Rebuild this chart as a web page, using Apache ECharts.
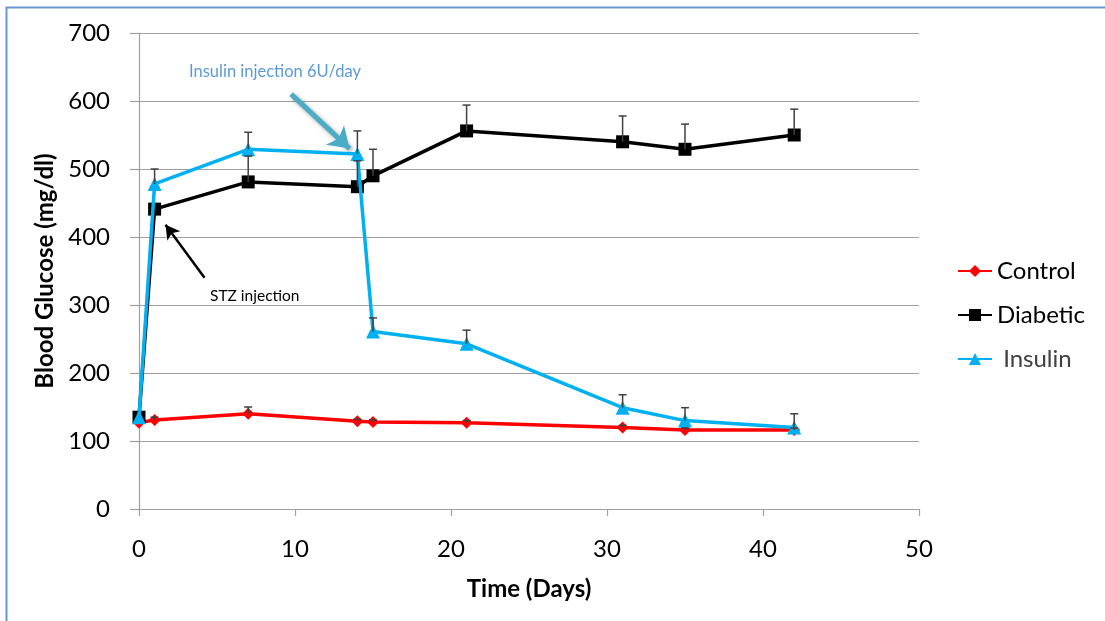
<!DOCTYPE html>
<html>
<head>
<meta charset="utf-8">
<script src="https://cdn.jsdelivr.net/npm/echarts@6/dist/echarts.min.js"></script>
<style>
  html, body { margin: 0; padding: 0; background: #fff; }
  #chart { width: 1105px; height: 621px; }
</style>
</head>
<body>
<div id="chart"></div>
<script>
// Sampling days
const days = [0, 1, 7, 14, 15, 21, 31, 35, 42];

// Mean blood glucose (mg/dl) per group
const control  = [127, 131, 140, 129, 128, 127, 120, 116, 116];
const diabetic = [135, 441, 481, 474, 490, 556, 540, 529, 550];
const insulin  = [135, 478, 529, 522, 261, 243, 149, 130, 120];

// Upper error (SE) per group; null = no bar drawn
const controlErr  = [null, 4, 10, 3, 3, 3, 3, 3, 3];
const diabeticErr = [null, null, 38, 38, 39, 38, 38, 37, 38];
const insulinErr  = [null, 22, 25, 34, 20, 20, 19, 19, 20];

const seriesNames = ['Control', 'Diabetic', 'Insulin'];
const yTicks = [0, 100, 200, 300, 400, 500, 600, 700];
const xTicks = [0, 10, 20, 30, 40, 50];

const FONT = 'Lato, "Open Sans", sans-serif';

function pairs(vals) {
  return days.map((d, i) => [d, vals[i]]);
}
function errData(vals, errs) {
  const out = [];
  days.forEach((d, i) => {
    if (errs[i] != null) out.push([d, vals[i], errs[i]]);
  });
  return out;
}

// Upper-only error bar with a short cap
function renderErr(params, api) {
  const x = api.value(0), v = api.value(1), e = api.value(2);
  const p0 = api.coord([x, v]);
  const p1 = api.coord([x, v + e]);
  const cap = 4;
  const style = { stroke: '#404040', lineWidth: 1.5, fill: null };
  return {
    type: 'group',
    children: [
      { type: 'line', shape: { x1: p0[0], y1: p0[1], x2: p1[0], y2: p1[1] }, style },
      { type: 'line', shape: { x1: p1[0] - cap, y1: p1[1], x2: p1[0] + cap, y2: p1[1] }, style }
    ]
  };
}

const chart = echarts.init(document.getElementById('chart'));

chart.setOption({
  animation: false,
  backgroundColor: '#ffffff',
  textStyle: { fontFamily: FONT },
  grid: { left: 139, right: 186, top: 33, bottom: 112, containLabel: false },
  xAxis: {
    type: 'value',
    min: xTicks[0], max: xTicks[xTicks.length - 1], interval: 10,
    name: 'Time (Days)',
    nameLocation: 'middle',
    nameGap: 68,
    nameTextStyle: { fontSize: 24, fontWeight: 'bold', color: '#000', fontFamily: FONT },
    axisLine: { show: true, lineStyle: { color: '#a0a0a0', width: 1.2 } },
    axisTick: { show: true, length: 7, lineStyle: { color: '#a0a0a0', width: 1.2 } },
    axisLabel: { fontSize: 24, color: '#000', margin: 28, fontFamily: FONT },
    splitLine: { show: false }
  },
  yAxis: {
    type: 'value',
    min: yTicks[0], max: yTicks[yTicks.length - 1], interval: 100,
    name: 'Blood Glucose (mg/dl)',
    nameLocation: 'middle',
    nameGap: 75,
    nameTextStyle: { fontSize: 24, fontWeight: 'bold', color: '#000', fontFamily: FONT },
    axisLine: { show: true, lineStyle: { color: '#a0a0a0', width: 1.2 } },
    axisTick: { show: true, length: 9, lineStyle: { color: '#a0a0a0', width: 1.2 } },
    axisLabel: { fontSize: 24, color: '#000', margin: 29, fontFamily: FONT },
    splitLine: { show: true, lineStyle: { color: '#a0a0a0', width: 1.2 } }
  },
  legend: {
    orient: 'vertical',
    left: 957,
    top: 259,
    padding: 0,
    itemWidth: 34,
    itemHeight: 15,
    itemGap: 20,
    data: [
      { name: 'Control' },
      { name: 'Diabetic' },
      { name: 'Insulin', textStyle: { color: '#404040' } }
    ],
    formatter: n => (n === 'Insulin' ? ' ' + n : n),
    textStyle: { fontSize: 24, color: '#000', fontFamily: FONT }
  },
  graphic: [
    {
      type: 'rect',
      shape: { x: 6.5, y: 7.5, width: 1300, height: 800 },
      style: { fill: null, stroke: '#6a96d8', lineWidth: 2 },
      silent: true
    },
    {
      type: 'text',
      left: 189, top: 63,
      style: { text: 'Insulin injection 6U/day', fill: '#5b9bd5', font: '16.5px ' + FONT }
    },
    {
      type: 'text',
      left: 210, top: 288,
      style: { text: 'STZ injection', fill: '#000', font: '15.5px ' + FONT }
    }
  ],
  series: [
    {
      name: 'Control', type: 'line', data: pairs(control),
      color: '#ff0000',
      symbol: 'diamond', symbolSize: 12,
      lineStyle: { width: 3.5, color: '#ff0000' },
      itemStyle: { color: '#ff0000' },
      z: 3
    },
    {
      name: 'Diabetic', type: 'line', data: pairs(diabetic),
      color: '#000000',
      symbol: 'rect', symbolSize: 13,
      lineStyle: { width: 3.5, color: '#000000' },
      itemStyle: { color: '#000000' },
      z: 4,
      markLine: {
        silent: true,
        symbol: ['none', 'arrow'],
        symbolSize: [12, 14],
        label: { show: false },
        lineStyle: { color: '#000', width: 2.5, type: 'solid' },
        data: [[{ coord: [4.2, 340] }, { coord: [1.7, 418] }]]
      }
    },
    {
      name: 'Insulin', type: 'line', data: pairs(insulin),
      color: '#00b0f0',
      symbol: 'triangle', symbolSize: 14,
      lineStyle: { width: 3.5, color: '#00b0f0' },
      itemStyle: { color: '#00b0f0' },
      z: 5,
      markLine: {
        silent: true,
        symbol: ['none', 'arrow'],
        symbolSize: [20, 20],
        label: { show: false },
        lineStyle: {
          color: '#4bacc6', width: 5, type: 'solid',
          shadowBlur: 4, shadowColor: 'rgba(0,0,0,0.35)', shadowOffsetX: 2, shadowOffsetY: 2
        },
        data: [[{ coord: [9.75, 610] }, { coord: [13.5, 530] }]]
      }
    },
    { type: 'custom', name: 'ctrlErr', data: errData(control, controlErr), renderItem: renderErr, z: 6, silent: true },
    { type: 'custom', name: 'diabErr', data: errData(diabetic, diabeticErr), renderItem: renderErr, z: 6, silent: true },
    { type: 'custom', name: 'insErr', data: errData(insulin, insulinErr), renderItem: renderErr, z: 6, silent: true }
  ]
});
</script>
</body>
</html>
